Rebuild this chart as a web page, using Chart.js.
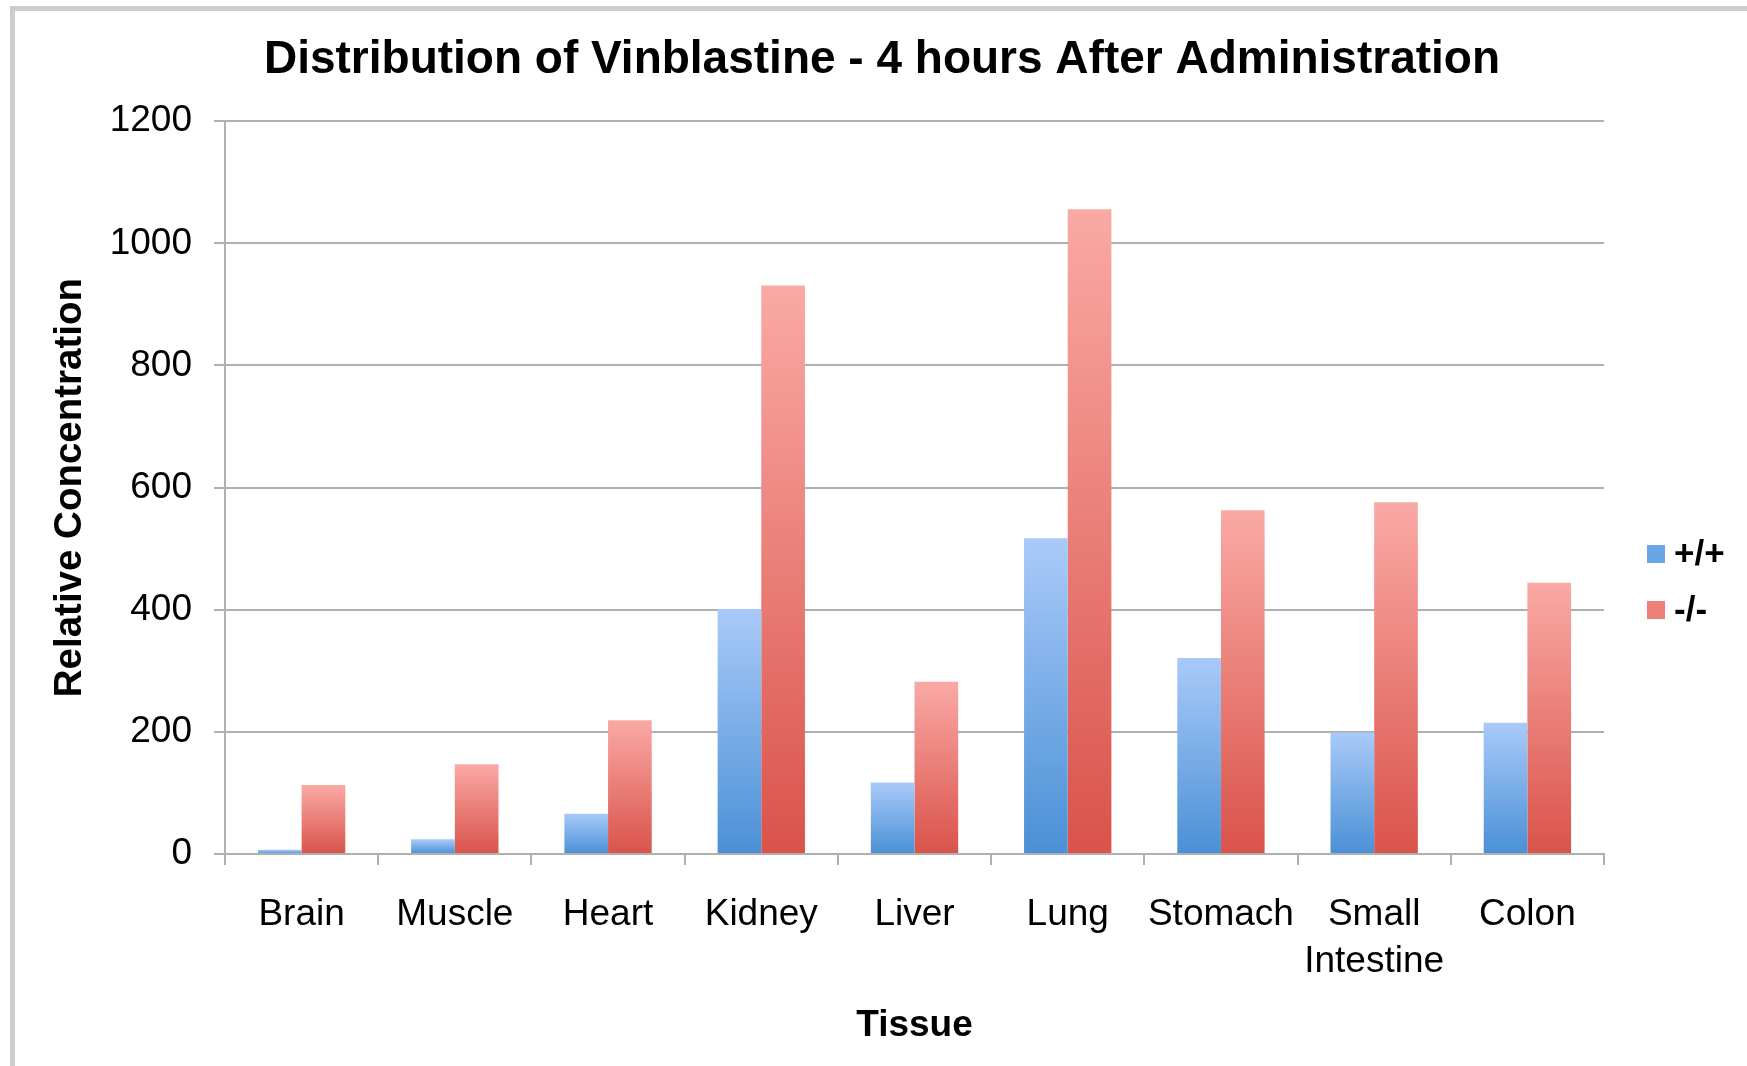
<!DOCTYPE html>
<html>
<head>
<meta charset="utf-8">
<script src="https://cdn.jsdelivr.net/npm/chart.js@4.4.1/dist/chart.umd.min.js"></script>
<style>
  html, body { margin: 0; padding: 0; background: #fff; }
  #wrap { position: relative; width: 1747px; height: 1066px; }
  #frame {
    position: absolute; left: 10px; top: 6px; right: -20px; bottom: -20px;
    border-left: 5px solid #cdcdcd; border-top: 5px solid #cdcdcd;
    pointer-events: none;
  }
</style>
</head>
<body>
<div id="wrap">
  <canvas id="chart" width="1747" height="1066"></canvas>
  <div id="frame"></div>
</div>
<script>
// 데이터
const tissues = ['Brain', 'Muscle', 'Heart', 'Kidney', 'Liver', 'Lung', 'Stomach', ['Small', 'Intestine'], 'Colon'];
const wildType = [7, 24, 66, 401, 117, 517, 321, 199, 215];   // +/+
const knockout = [113, 147, 219, 931, 282, 1056, 563, 576, 444]; // -/-
const yTicks = [0, 200, 400, 600, 800, 1000, 1200];
const legendSwatch = ['#6aa5e6', '#ec7f77'];

const FONT = "'Liberation Sans', Arial, Helvetica, sans-serif";

// 막대마다 위(밝음) -> 아래(진함) 그라데이션
function barGradient(top, bottom) {
    return (c) => {
        const chart = c.chart;
        const y = chart.scales && chart.scales.y;
        if (!chart.chartArea || !y || c.raw == null) return bottom;
        const yTop = y.getPixelForValue(c.raw);
        const yBase = y.getPixelForValue(0);
        if (yBase - yTop < 1) return bottom;
        const g = chart.ctx.createLinearGradient(0, yTop, 0, yBase);
        g.addColorStop(0, top);
        g.addColorStop(1, bottom);
        return g;
    };
}

// 오른쪽 범례 (엑셀 스타일: 작은 사각형 + 라벨)
const sideLegend = {
    id: 'sideLegend',
    afterDraw(chart) {
        const { ctx, chartArea } = chart;
        const x0 = chartArea.right + 43;
        const yMid = 582;
        const gap = 56;
        ctx.save();
        ctx.font = 'bold 35px ' + FONT;
        ctx.textBaseline = 'middle';
        chart.data.datasets.forEach((ds, i) => {
            const cy = yMid + (i - 0.5) * gap;
            ctx.fillStyle = legendSwatch[i];
            ctx.fillRect(x0, cy - 9, 18, 18);
            ctx.fillStyle = '#000';
            ctx.fillText(ds.label, x0 + 27, cy + 1);
        });
        ctx.restore();
    }
};

const ctx = document.getElementById('chart').getContext('2d');
new Chart(ctx, {
    type: 'bar',
    data: {
        labels: tissues,
        datasets: [
            {
                label: '+/+',
                data: wildType,
                backgroundColor: barGradient('#a9caf8', '#4a90d6'),
                borderWidth: 0,
                barPercentage: 1.0,
                categoryPercentage: 0.57
            },
            {
                label: '-/-',
                data: knockout,
                backgroundColor: barGradient('#faa9a5', '#d9534a'),
                borderWidth: 0,
                barPercentage: 1.0,
                categoryPercentage: 0.57
            }
        ]
    },
    options: {
        responsive: false,
        animation: false,
        layout: { padding: { left: 17, right: 0, top: 0, bottom: 0 } },
        plugins: {
            title: {
                display: true,
                text: 'Distribution of Vinblastine - 4 hours After Administration',
                color: '#000',
                font: { family: FONT, size: 46, weight: 'bold', lineHeight: 1.2 },
                padding: { top: 33, bottom: 33 }
            },
            legend: { display: false },
            tooltip: { enabled: false }
        },
        scales: {
            x: {
                grid: {
                    offset: true,
                    drawOnChartArea: false,
                    drawTicks: true,
                    tickLength: 11,
                    color: '#b0b0b0',
                    lineWidth: 2
                },
                border: { display: true, color: '#b0b0b0', width: 2 },
                ticks: {
                    color: '#000',
                    font: { family: FONT, size: 37, lineHeight: 1.25 },
                    padding: 27,
                    maxRotation: 0,
                    autoSkip: false
                },
                title: {
                    display: true,
                    text: 'Tissue',
                    color: '#000',
                    font: { family: FONT, size: 37, weight: 'bold', lineHeight: 1.2 },
                    padding: { top: 0, bottom: 18 }
                },
                afterFit: (s) => { s.height = 212; }
            },
            y: {
                min: 0,
                max: 1200,
                afterBuildTicks: (s) => { s.ticks = yTicks.map(v => ({ value: v })); },
                grid: {
                    color: '#b0b0b0',
                    lineWidth: 2,
                    tickLength: 11
                },
                border: { display: true, color: '#b0b0b0', width: 2 },
                ticks: {
                    color: '#000',
                    font: { family: FONT, size: 37 },
                    padding: 22,
                    callback: (v) => String(v)
                },
                title: {
                    display: true,
                    text: 'Relative Concentration',
                    color: '#000',
                    font: { family: FONT, size: 38.5, weight: 'bold', lineHeight: 1.2 },
                    padding: { top: 30, bottom: 0 }
                },
                afterFit: (s) => { s.width = 208; }
            },
            // 범례 자리 확보용 빈 축
            legendSpace: {
                type: 'linear',
                position: 'right',
                display: true,
                grid: { display: false, drawTicks: false },
                border: { display: false },
                ticks: { display: false },
                afterFit: (s) => { s.width = 143; }
            }
        }
    },
    plugins: [sideLegend]
});
</script>
</body>
</html>
